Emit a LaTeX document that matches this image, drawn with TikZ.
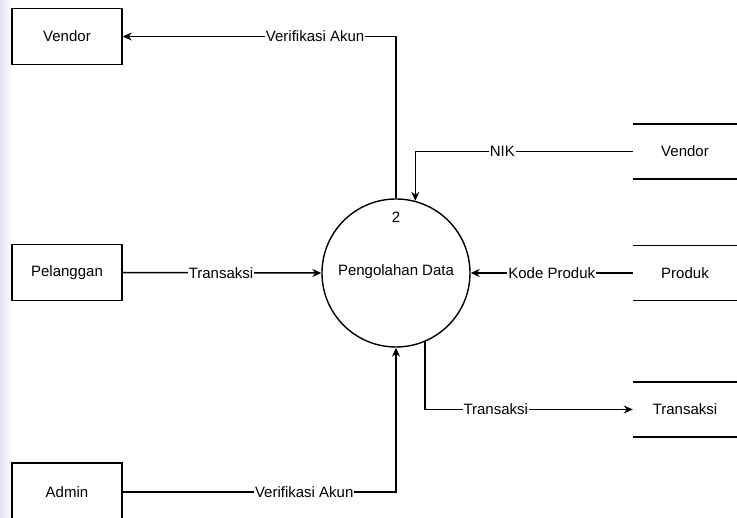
\documentclass[tikz,border=0pt]{standalone}
\usepackage{fontspec}
\setmainfont{Liberation Sans}
\usetikzlibrary{arrows.meta,calc}
\begin{document}
\begin{tikzpicture}[x=1pt,y=-1pt,
  every node/.style={font=\fontsize{15}{17}\selectfont, inner sep=0pt},
  entity/.style={draw, line width=1.5pt, minimum width=110pt, minimum height=56pt},
  store/.style={minimum width=104pt, minimum height=55pt},
  proc/.style={draw, line width=1.4pt, circle, minimum size=148pt},
  flow/.style={line width=1.5pt, -{Stealth[length=9pt,width=8pt]}},
  lab/.style={fill=white, inner sep=1pt}]
\useasboundingbox (0,0) rectangle (737,518);
\fill[white] (0,0) rectangle (737,518);
\shade[left color={rgb,255:red,230;green,225;blue,245}, right color=white] (0,0) rectangle (12,518);

\node[entity] (vendorE) at (67,36.5) {Vendor};
\node[entity] (pel) at (67,272.5) {Pelanggan};
\node[entity, minimum height=58pt] (admin) at (67,492) {Admin};

\node[proc] (proc) at (396,273) {};
\node (num) at (396,217) {2};
\node (ptext) at (396,272) {Pengolahan Data};

\node[store] (vs) at (685,151.5) {Vendor};
\node[store] (ps) at (685,273) {Produk};
\node[store] (ts) at (685,409.5) {Transaksi};
\foreach \s in {vs,ps,ts}{
  \draw[line width=1.5pt] (\s.north west) -- (\s.north east);
  \draw[line width=1.5pt] (\s.south west) -- (\s.south east);
}

\draw[flow] (proc.north) |- node[lab, pos=0.648] {Verifikasi Akun} (vendorE.east);
\draw[flow] (vs.west) -| node[lab, pos=0.3] {NIK} (proc.75);
\draw[flow] (pel.east) -- node[lab, pos=0.495] {Transaksi} (proc.west);
\draw[flow] (ps.west) -- node[lab, pos=0.5] {Kode Produk} (proc.east);
\draw[flow] (proc.-67) |- node[lab, pos=0.67] {Transaksi} (ts.west);
\draw[flow] (admin.east) -| node[lab, pos=0.332] {Verifikasi Akun} (proc.south);
\end{tikzpicture}
\end{document}
